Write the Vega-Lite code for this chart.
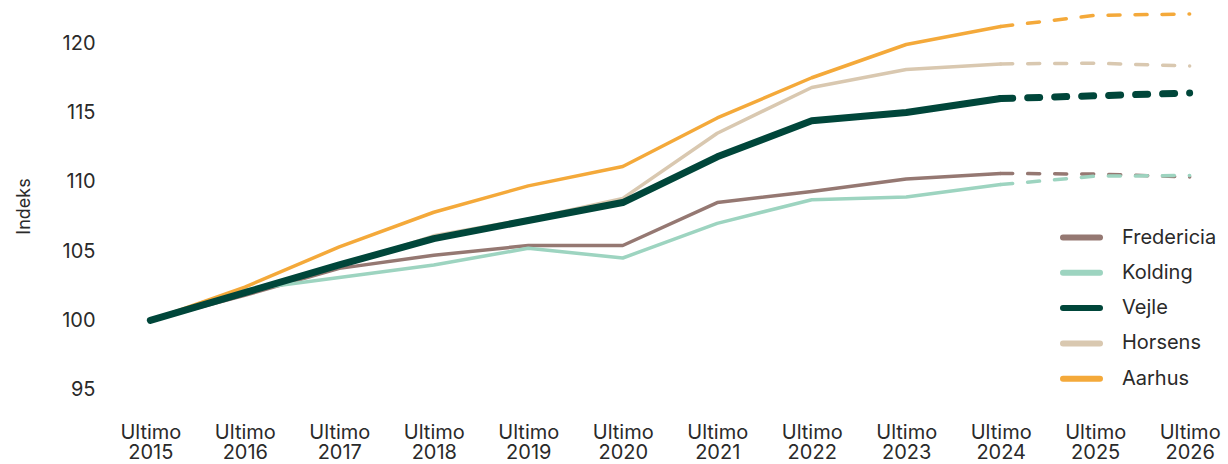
{
  "$schema": "https://vega.github.io/schema/vega-lite/v6.json",
  "width": 1096,
  "height": 409,
  "autosize": {"type": "none"},
  "padding": {"left": 122, "top": 1.5, "right": 10, "bottom": 53.5},
  "background": "white",
  "config": {
    "font": "Inter",
    "view": {"stroke": null},
    "axis": {"labelColor": "#2a2a2a", "titleColor": "#2a2a2a", "labelFont": "Inter", "titleFont": "Inter"},
    "legend": {"labelFont": "Inter"}
  },
  "data": {
    "values": [
      {"series": "Fredericia", "year": "2015", "value": 100, "part": "Faktisk"},
      {"series": "Fredericia", "year": "2016", "value": 101.8, "part": "Faktisk"},
      {"series": "Fredericia", "year": "2017", "value": 103.75, "part": "Faktisk"},
      {"series": "Fredericia", "year": "2018", "value": 104.7, "part": "Faktisk"},
      {"series": "Fredericia", "year": "2019", "value": 105.4, "part": "Faktisk"},
      {"series": "Fredericia", "year": "2020", "value": 105.4, "part": "Faktisk"},
      {"series": "Fredericia", "year": "2021", "value": 108.5, "part": "Faktisk"},
      {"series": "Fredericia", "year": "2022", "value": 109.3, "part": "Faktisk"},
      {"series": "Fredericia", "year": "2023", "value": 110.2, "part": "Faktisk"},
      {"series": "Fredericia", "year": "2024", "value": 110.6, "part": "Faktisk"},
      {"series": "Fredericia", "year": "2024", "value": 110.6, "part": "Prognose"},
      {"series": "Fredericia", "year": "2025", "value": 110.55, "part": "Prognose"},
      {"series": "Fredericia", "year": "2026", "value": 110.35, "part": "Prognose"},
      {"series": "Horsens", "year": "2015", "value": 100, "part": "Faktisk"},
      {"series": "Horsens", "year": "2016", "value": 102.0, "part": "Faktisk"},
      {"series": "Horsens", "year": "2017", "value": 103.9, "part": "Faktisk"},
      {"series": "Horsens", "year": "2018", "value": 106.1, "part": "Faktisk"},
      {"series": "Horsens", "year": "2019", "value": 107.3, "part": "Faktisk"},
      {"series": "Horsens", "year": "2020", "value": 108.8, "part": "Faktisk"},
      {"series": "Horsens", "year": "2021", "value": 113.5, "part": "Faktisk"},
      {"series": "Horsens", "year": "2022", "value": 116.8, "part": "Faktisk"},
      {"series": "Horsens", "year": "2023", "value": 118.1, "part": "Faktisk"},
      {"series": "Horsens", "year": "2024", "value": 118.5, "part": "Faktisk"},
      {"series": "Horsens", "year": "2024", "value": 118.5, "part": "Prognose"},
      {"series": "Horsens", "year": "2025", "value": 118.55, "part": "Prognose"},
      {"series": "Horsens", "year": "2026", "value": 118.35, "part": "Prognose"},
      {"series": "Kolding", "year": "2015", "value": 100, "part": "Faktisk"},
      {"series": "Kolding", "year": "2016", "value": 102.2, "part": "Faktisk"},
      {"series": "Kolding", "year": "2017", "value": 103.1, "part": "Faktisk"},
      {"series": "Kolding", "year": "2018", "value": 104.0, "part": "Faktisk"},
      {"series": "Kolding", "year": "2019", "value": 105.2, "part": "Faktisk"},
      {"series": "Kolding", "year": "2020", "value": 104.5, "part": "Faktisk"},
      {"series": "Kolding", "year": "2021", "value": 107.0, "part": "Faktisk"},
      {"series": "Kolding", "year": "2022", "value": 108.7, "part": "Faktisk"},
      {"series": "Kolding", "year": "2023", "value": 108.9, "part": "Faktisk"},
      {"series": "Kolding", "year": "2024", "value": 109.8, "part": "Faktisk"},
      {"series": "Kolding", "year": "2024", "value": 109.8, "part": "Prognose"},
      {"series": "Kolding", "year": "2025", "value": 110.4, "part": "Prognose"},
      {"series": "Kolding", "year": "2026", "value": 110.45, "part": "Prognose"},
      {"series": "Aarhus", "year": "2015", "value": 100, "part": "Faktisk"},
      {"series": "Aarhus", "year": "2016", "value": 102.4, "part": "Faktisk"},
      {"series": "Aarhus", "year": "2017", "value": 105.3, "part": "Faktisk"},
      {"series": "Aarhus", "year": "2018", "value": 107.8, "part": "Faktisk"},
      {"series": "Aarhus", "year": "2019", "value": 109.7, "part": "Faktisk"},
      {"series": "Aarhus", "year": "2020", "value": 111.1, "part": "Faktisk"},
      {"series": "Aarhus", "year": "2021", "value": 114.6, "part": "Faktisk"},
      {"series": "Aarhus", "year": "2022", "value": 117.5, "part": "Faktisk"},
      {"series": "Aarhus", "year": "2023", "value": 119.9, "part": "Faktisk"},
      {"series": "Aarhus", "year": "2024", "value": 121.2, "part": "Faktisk"},
      {"series": "Aarhus", "year": "2024", "value": 121.2, "part": "Prognose"},
      {"series": "Aarhus", "year": "2025", "value": 122.0, "part": "Prognose"},
      {"series": "Aarhus", "year": "2026", "value": 122.1, "part": "Prognose"},
      {"series": "Vejle", "year": "2015", "value": 100, "part": "Faktisk"},
      {"series": "Vejle", "year": "2016", "value": 102.0, "part": "Faktisk"},
      {"series": "Vejle", "year": "2017", "value": 104.0, "part": "Faktisk"},
      {"series": "Vejle", "year": "2018", "value": 105.9, "part": "Faktisk"},
      {"series": "Vejle", "year": "2019", "value": 107.2, "part": "Faktisk"},
      {"series": "Vejle", "year": "2020", "value": 108.5, "part": "Faktisk"},
      {"series": "Vejle", "year": "2021", "value": 111.8, "part": "Faktisk"},
      {"series": "Vejle", "year": "2022", "value": 114.4, "part": "Faktisk"},
      {"series": "Vejle", "year": "2023", "value": 115.0, "part": "Faktisk"},
      {"series": "Vejle", "year": "2024", "value": 116.0, "part": "Faktisk"},
      {"series": "Vejle", "year": "2024", "value": 116.0, "part": "Prognose"},
      {"series": "Vejle", "year": "2025", "value": 116.2, "part": "Prognose"},
      {"series": "Vejle", "year": "2026", "value": 116.4, "part": "Prognose"}
    ]
  },
  "encoding": {
    "x": {
      "field": "year",
      "type": "ordinal",
      "sort": null,
      "scale": {"type": "point", "padding": 0.3},
      "axis": {
        "title": null,
        "labelAngle": 0,
        "ticks": false,
        "domain": false,
        "grid": false,
        "labelFontSize": 20,
        "labelPadding": 12,
        "labelLineHeight": 20,
        "labelExpr": "['Ultimo', datum.value]"
      }
    },
    "y": {
      "field": "value",
      "type": "quantitative",
      "scale": {"domain": [93.5, 123], "nice": false, "zero": false},
      "axis": {
        "title": "Indeks",
        "values": [95, 100, 105, 110, 115, 120],
        "ticks": false,
        "domain": false,
        "grid": false,
        "labelFontSize": 20,
        "labelPadding": 27,
        "titleFontSize": 18,
        "titleFontWeight": "normal",
        "titlePadding": 28
      }
    },
    "color": {
      "field": "series",
      "type": "nominal",
      "scale": {
        "domain": ["Fredericia", "Kolding", "Vejle", "Horsens", "Aarhus"],
        "range": ["#957872", "#9dd4c0", "#00463a", "#d9c8b0", "#f4a93a"]
      },
      "legend": {
        "title": null,
        "orient": "none",
        "legendX": 938,
        "legendY": 221,
        "symbolType": "stroke",
        "symbolSize": 1369,
        "symbolStrokeWidth": 6,
        "labelFontSize": 20,
        "labelColor": "#2a2a2a",
        "labelOffset": 19,
        "clipHeight": 30,
        "rowPadding": 5.3,
        "encode": {"symbols": {"update": {"strokeCap": {"value": "round"}}}}
      }
    },
    "detail": {"field": "series"},
    "strokeWidth": {
      "condition": {"test": "datum.series === 'Vejle'", "value": 7},
      "value": 3.5
    }
  },
  "layer": [
    {
      "transform": [{"filter": "datum.part === 'Faktisk'"}],
      "mark": {"type": "line", "strokeCap": "round", "strokeJoin": "round"}
    },
    {
      "transform": [{"filter": "datum.part === 'Prognose'"}],
      "mark": {"type": "line", "strokeCap": "round", "strokeJoin": "round", "strokeDash": [12, 15]}
    }
  ]
}
